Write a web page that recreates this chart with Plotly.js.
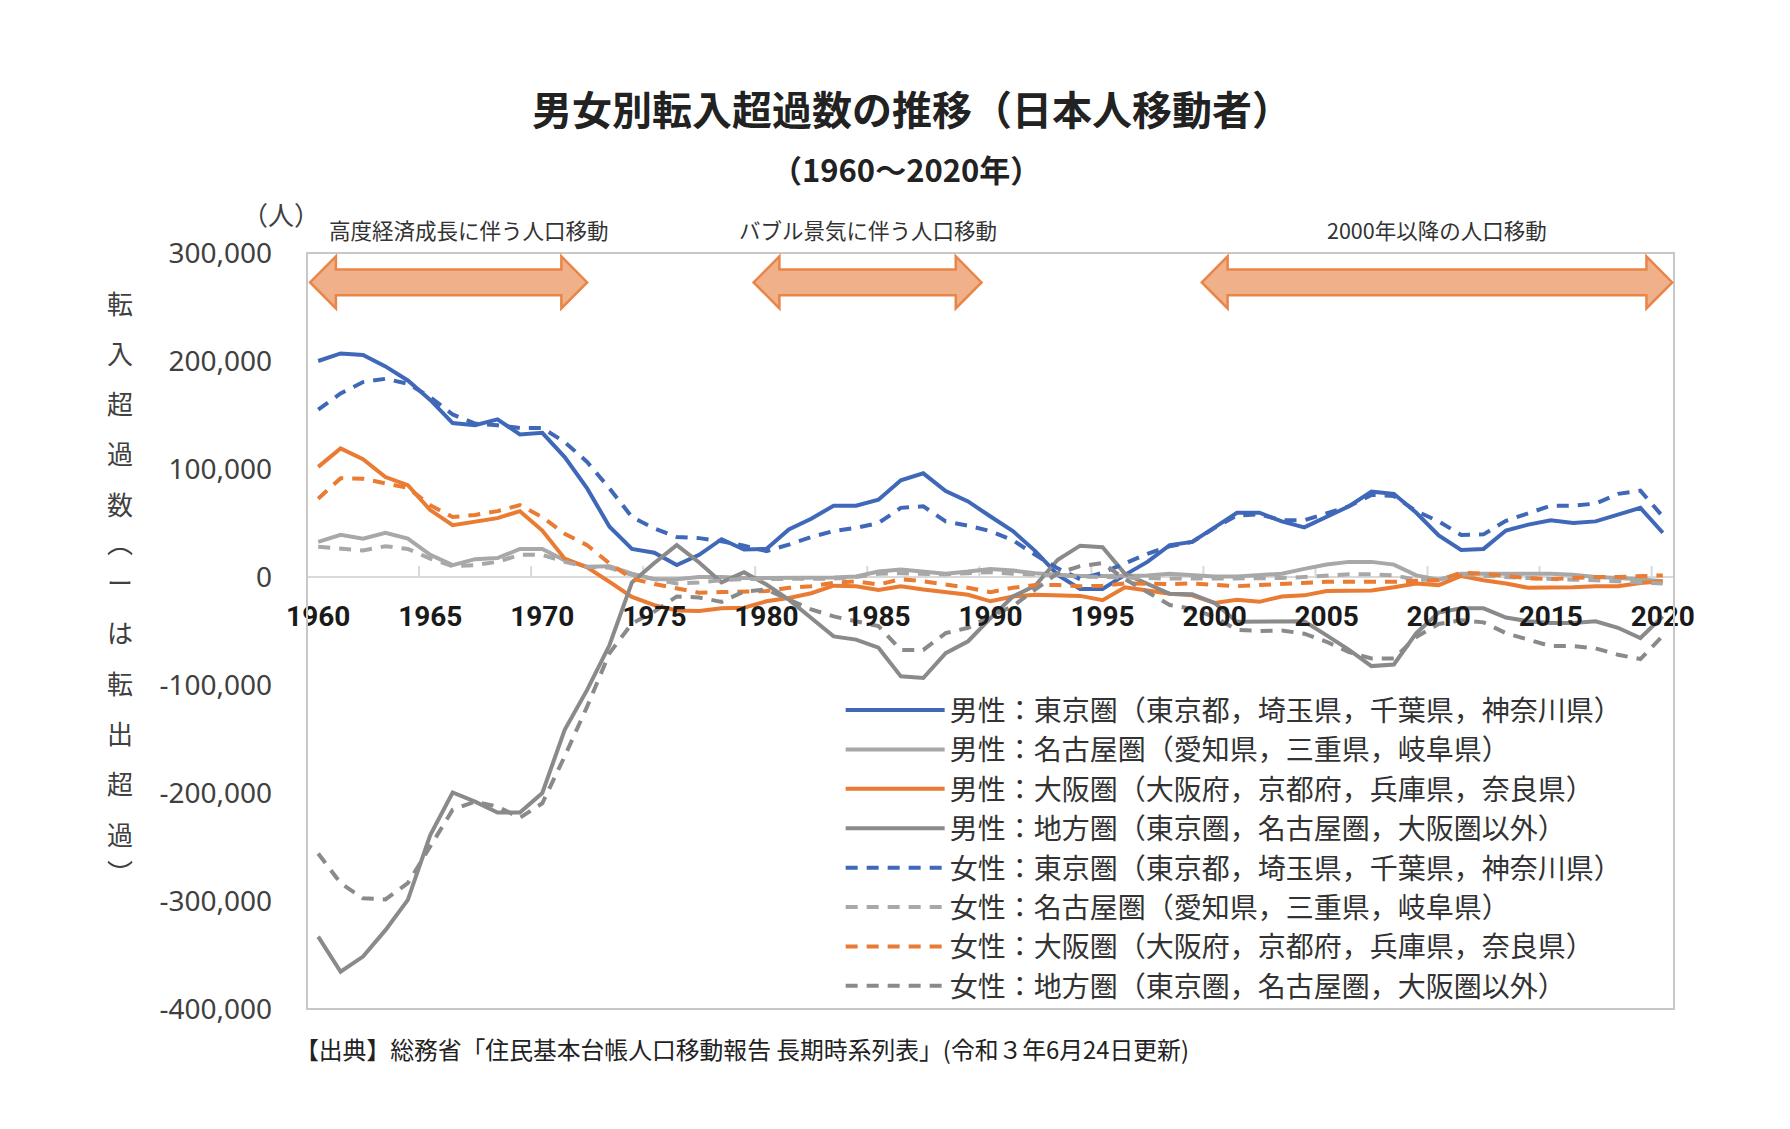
<!DOCTYPE html>
<html><head><meta charset="utf-8">
<script src="https://cdn.plot.ly/plotly-3.0.1.min.js"></script>
<style>html,body{margin:0;padding:0;background:#fff}#chart{width:1790px;height:1129px}</style>
</head><body><div id="chart"></div>
<script>
const years = [1960,1961,1962,1963,1964,1965,1966,1967,1968,1969,1970,1971,1972,1973,1974,1975,1976,1977,1978,1979,1980,1981,1982,1983,1984,1985,1986,1987,1988,1989,1990,1991,1992,1993,1994,1995,1996,1997,1998,1999,2000,2001,2002,2003,2004,2005,2006,2007,2008,2009,2010,2011,2012,2013,2014,2015,2016,2017,2018,2019,2020];

// 男性
const maleTokyo = [200000,207000,205500,195000,182000,164000,142500,140500,146000,132000,133500,111000,82000,46500,26000,22500,11000,20500,35000,25500,26000,44000,54000,66000,66000,71500,89500,96000,79500,70000,56000,42500,24000,2000,-11000,-11000,2000,14000,29500,32500,46000,59500,59500,51500,46000,56000,65500,79000,77000,59500,38500,25000,26000,43000,48500,52500,50000,51500,57500,64000,41000];
const maleNagoya = [32500,39000,35500,41000,35500,20500,11000,16500,17500,26000,26000,15500,9500,10000,3000,-2000,-2000,0,0,-1000,-1000,-1000,-1000,-500,500,5000,7000,5000,3000,5000,7500,6000,3500,2000,1000,1000,1000,1500,3000,1500,500,500,1500,3000,7500,11500,14000,14000,11500,1500,-2500,3000,3000,3000,3000,3000,2000,0,-1000,-2000,-4000];
const maleOsaka = [102000,119000,109000,92500,85000,62000,48000,51500,54500,61000,43000,17000,9000,-4500,-18500,-26000,-31000,-31500,-29000,-28500,-22500,-19500,-15000,-8000,-8500,-12000,-8500,-11500,-14000,-16500,-22500,-18000,-16500,-17000,-17500,-21500,-9500,-12500,-15500,-17000,-24000,-21000,-23000,-18000,-17000,-13000,-13000,-12500,-9500,-6000,-7500,1000,-3000,-6000,-10000,-10000,-9500,-8500,-8500,-5500,-4000];
const maleChiho = [-333000,-365500,-351500,-327000,-299000,-239000,-199500,-208000,-218000,-218000,-200000,-141500,-104500,-63000,-5000,13000,29500,13500,-5000,4500,-7000,-21000,-38000,-55000,-58000,-65500,-92000,-93500,-70500,-59500,-38000,-18000,-8000,16000,29000,27500,3000,-6000,-15500,-16000,-24000,-41500,-41500,-41000,-41000,-54000,-67500,-82500,-81000,-52000,-33000,-29000,-29000,-37500,-41000,-42500,-42500,-41000,-47000,-56500,-36500];
// 女性
const femaleTokyo = [155000,170000,180500,183500,179000,166500,150500,142000,140500,138000,138000,125000,106500,82000,55500,45000,37000,36000,33000,29000,24000,30000,37000,42500,45500,50000,64000,65500,51500,47500,42500,34000,20500,8000,-2000,4000,12500,21500,28500,32500,45500,57000,58000,52500,52500,59000,65500,76000,75000,61000,51500,39000,39500,52000,59000,66000,66000,68000,77000,80000,56000];
const femaleNagoya = [28000,26000,24500,28500,26000,17000,10000,11000,14000,20500,20500,14000,9500,8500,2000,-2000,-6000,-5000,-3000,-2000,-2000,-2000,-2000,-1500,0,3000,3500,3000,2500,3500,4500,3000,2500,1500,500,0,-1000,-1500,-1500,-1500,-1500,-1500,-1500,-1000,0,1500,2500,2500,1500,-2500,-2500,2500,1000,0,-1000,-2000,-2500,-3000,-4000,-5500,-6000];
const femaleOsaka = [72500,91500,91000,86500,82500,66500,55500,57500,61000,66500,55500,40000,29500,12500,-1500,-6500,-10500,-14500,-14000,-13500,-13000,-10000,-8500,-5500,-4000,-7000,-2000,-4000,-7000,-10000,-14000,-10000,-7500,-7500,-8500,-8000,-6000,-6500,-6500,-6000,-7500,-8500,-7500,-6500,-5500,-4500,-4500,-4500,-4500,-3500,-3000,4000,3000,1000,-1000,-2000,-1000,0,0,500,1500];
const femaleChiho = [-256000,-283500,-297500,-298500,-283500,-250000,-215500,-208000,-212500,-223000,-209500,-166000,-120000,-70500,-43000,-32000,-18000,-19000,-23000,-13500,-11500,-21000,-30000,-36500,-41000,-45500,-67500,-67500,-52000,-47000,-36500,-27000,-11500,3500,10000,13000,-2000,-14000,-26000,-29500,-37000,-49000,-50000,-49500,-52500,-60000,-69500,-75500,-75500,-55500,-43500,-40000,-42000,-52000,-58000,-64000,-64000,-66000,-72000,-76000,-54500];

const seriesNames = [
  '男性：東京圏（東京都，埼玉県，千葉県，神奈川県）',
  '男性：名古屋圏（愛知県，三重県，岐阜県）',
  '男性：大阪圏（大阪府，京都府，兵庫県，奈良県）',
  '男性：地方圏（東京圏，名古屋圏，大阪圏以外）',
  '女性：東京圏（東京都，埼玉県，千葉県，神奈川県）',
  '女性：名古屋圏（愛知県，三重県，岐阜県）',
  '女性：大阪圏（大阪府，京都府，兵庫県，奈良県）',
  '女性：地方圏（東京圏，名古屋圏，大阪圏以外）'
];
const seriesValues = [maleTokyo, maleNagoya, maleOsaka, maleChiho, femaleTokyo, femaleNagoya, femaleOsaka, femaleChiho];

const xTickVals = [1960,1965,1970,1975,1980,1985,1990,1995,2000,2005,2010,2015,2020];
const yTickVals = [300000,200000,100000,0,-100000,-200000,-300000,-400000];

const eraLabels = ['高度経済成長に伴う人口移動','バブル景気に伴う人口移動','2000年以降の人口移動'];
const eraStart = [1959.64, 1979.43, 1999.43];
const eraEnd = [1972.0, 1989.6, 2020.42];

const titleText = '男女別転入超過数の推移（日本人移動者）';
const subtitleText = '（1960～2020年）';
const unitText = '（人）';
const yTitleChars = ['転','入','超','過','数','︵','ー','は','転','出','超','過','︶'];
const sourceText = '【出典】総務省「住民基本台帳人口移動報告 長期時系列表」(令和３年6月24日更新)';

// ---------- styling ----------
const W = 1790, H = 1129;
const L = 307, R = 1673.6, T = 253.4, B = 1009;
const px2x = p => (p - L) / (R - L);
const py2y = p => (B - p) / (B - T);
const colors = ['#4068B8','#A8A8A8','#E97B33','#8A8A8A','#4068B8','#A8A8A8','#E97B33','#8A8A8A'];
const CJK = '"Noto Sans CJK JP", "Noto Sans", sans-serif';

const traces = seriesValues.map((vals, i) => ({
  type: 'scatter', mode: 'lines', x: years, y: vals, name: seriesNames[i],
  line: {color: colors[i], width: 4, dash: i < 4 ? 'solid' : '12px,9px'},
  hoverinfo: 'skip'
}));

const shapes = [];
shapes.push({type:'rect', xref:'paper', yref:'paper', x0:0, x1:1, y0:0, y1:1, line:{color:'#C8C8C8', width:2}, layer:'above'});
for (let i = 0; i < xTickVals.length - 1; i++) {
  const xb = xTickVals[i] + 4.5;
  shapes.push({type:'line', xref:'x', yref:'y', x0:xb, x1:xb, ysizemode:'pixel', yanchor:0, y0:0, y1:11,
    line:{color:'#D9D9D9', width:2}, layer:'below'});
}
// block arrows
const yc = 272800, hh = 24100, bh = 12000, headYears = 1.15;
for (let i = 0; i < eraStart.length; i++) {
  const a = eraStart[i], b = eraEnd[i];
  const p = `M${a},${yc} L${a+headYears},${yc+hh} L${a+headYears},${yc+bh} L${b-headYears},${yc+bh} L${b-headYears},${yc+hh} L${b},${yc} L${b-headYears},${yc-hh} L${b-headYears},${yc-bh} L${a+headYears},${yc-bh} L${a+headYears},${yc-hh} Z`;
  shapes.push({type:'path', xref:'x', yref:'y', path:p, fillcolor:'#F0B089', line:{color:'#E8864A', width:2.5}, layer:'above'});
}

const annotations = [];
const eraLabelShift = [0.9, 0, 0];
eraLabels.forEach((t, i) => {
  annotations.push({xref:'x', yref:'paper', x:(eraStart[i]+eraEnd[i])/2 + eraLabelShift[i], y:py2y(229.5), yanchor:'middle', xanchor:'center',
    text:t, showarrow:false, font:{family:CJK, size:21.5, color:'#333333'}});
});
annotations.push({xref:'paper', yref:'paper', x:px2x(906), y:py2y(169), xanchor:'center', yanchor:'middle',
  text:subtitleText, showarrow:false, font:{family:CJK, size:31, color:'#222222', weight:'bold'}});
annotations.push({xref:'paper', yref:'paper', x:px2x(281), y:py2y(213.5), xanchor:'center', yanchor:'middle',
  text:unitText, showarrow:false, font:{family:CJK, size:26, color:'#404040'}});
const yTitlePos = [302.5,352.8,403,453.2,503.4,542,582.2,631.3,682.7,732.9,783.1,833.4,872];
yTitleChars.forEach((c, i) => {
  annotations.push({xref:'paper', yref:'paper', x:px2x(120), y:py2y(yTitlePos[i]), xanchor:'center', yanchor:'middle',
    text:c, showarrow:false, font:{family:CJK, size:26, color:'#404040'}});
});
annotations.push({xref:'paper', yref:'paper', x:px2x(293), y:py2y(1048), xanchor:'left', yanchor:'middle',
  text:sourceText, showarrow:false, font:{family:CJK, size:23.8, color:'#222222'}});

const layout = {
  width: W, height: H,
  margin: {l: L, r: W - R, t: T, b: H - B, pad: 0},
  paper_bgcolor: '#ffffff', plot_bgcolor: '#ffffff',
  title: {text: titleText, x: 912/W, xanchor:'center', y: 1 - 111/H, yanchor:'middle', yref:'container',
    font: {family: CJK, size: 40, color: '#222222', weight: 'bold'}},
  showlegend: true,
  legend: {x: px2x(840.5), y: py2y(685.5), xanchor:'left', yanchor:'top', xref:'paper', yref:'paper',
    bgcolor:'rgba(0,0,0,0)', borderwidth:0, itemwidth: 99,
    font:{family: CJK, size: 28, color:'#333333'}},
  xaxis: {range:[1959.5, 2020.5], anchor:'free', position: 4/7, tickmode:'array', tickvals: xTickVals,
    ticktext: xTickVals.map(String), ticks:'', showline:false, showgrid:false, zeroline:false,
    ticklabelstandoff: 20,
    tickfont:{family:'Roboto, "Liberation Sans", sans-serif', size:28, color:'#1a1a1a', weight:'bold'}, fixedrange:true},
  yaxis: {range:[-400000, 300000], tickmode:'array', tickvals: yTickVals,
    ticktext: yTickVals.map(v => v.toLocaleString('en-US')), ticks:'', showline:false, showgrid:false,
    zeroline:true, zerolinecolor:'#D9D9D9', zerolinewidth:2, ticklabelstandoff: 34,
    tickfont:{family:'"Noto Sans", sans-serif', size:28, color:'#404040'}, fixedrange:true},
  shapes, annotations
};
Plotly.newPlot('chart', traces, layout, {displayModeBar:false, staticPlot:true});
</script>
</body></html>
